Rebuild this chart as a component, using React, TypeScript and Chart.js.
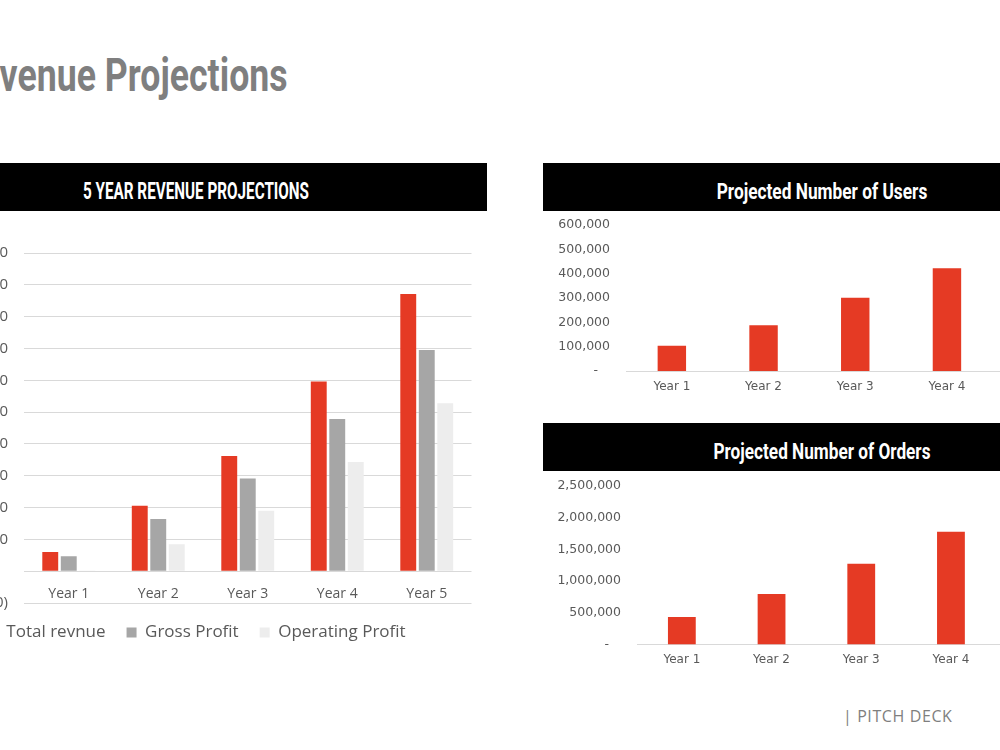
import React, { useEffect, useRef } from "react";
import { Chart, registerables } from "chart.js";

Chart.register(...registerables);

// ---------- data ----------
const revenueYears = ["Year 1", "Year 2", "Year 3", "Year 4", "Year 5"];
const totalRevenue = [600000, 2060000, 3620000, 5960000, 8710000];
const grossProfit = [470000, 1640000, 2910000, 4780000, 6950000];
const operatingProfit = [20000, 850000, 1900000, 3430000, 5280000];
const revenueSeriesNames = ["Total revnue", "Gross Profit", "Operating Profit"];
const revenueTickMin = -1000000;
const revenueTickMax = 10000000;
const revenueTickStep = 1000000;

const userYears = ["Year 1", "Year 2", "Year 3", "Year 4", "Year 5"];
const projectedUsers = [104000, 188000, 301000, 422000, 550000];
const usersTickMax = 600000;
const usersTickStep = 100000;

const orderYears = ["Year 1", "Year 2", "Year 3", "Year 4", "Year 5"];
const projectedOrders = [435000, 797000, 1273000, 1780000, 2300000];
const ordersTickMax = 2500000;
const ordersTickStep = 500000;

const pageTitle = "Revenue Projections";
const pageTitleVisible = "venue Projections";
const revenueHeader = "5 YEAR REVENUE PROJECTIONS";
const usersHeader = "Projected Number of Users";
const ordersHeader = "Projected Number of Orders";
const footerText = "| PITCH DECK";

// ---------- styles ----------
const RED = "#E53A24";
const GRAY = "#A6A6A6";
const LIGHT = "#EDEDED";
const TEXT = "#595959";
const GRID = "#D9D9D9";

const fmt = (v: number) => Math.round(v).toLocaleString("en-US");
const accounting = (v: number) =>
  v === 0 ? "-   " : v < 0 ? `(${fmt(-v)})` : fmt(v);

let measureCtx: CanvasRenderingContext2D | null = null;
function textWidth(text: string, font: string) {
  if (!measureCtx) measureCtx = document.createElement("canvas").getContext("2d");
  measureCtx!.font = font;
  return measureCtx!.measureText(text).width;
}

function useChart(config: any) {
  const ref = useRef<HTMLCanvasElement | null>(null);
  useEffect(() => {
    if (!ref.current) return;
    const chart = new Chart(ref.current, config);
    return () => chart.destroy();
  }, []);
  return ref;
}

function RevenueChart() {
  const ref = useChart({
    type: "bar",
    data: {
      labels: revenueYears,
      datasets: [
        { label: revenueSeriesNames[0], data: totalRevenue, backgroundColor: RED },
        { label: revenueSeriesNames[1], data: grossProfit, backgroundColor: GRAY },
        { label: revenueSeriesNames[2], data: operatingProfit, backgroundColor: LIGHT },
      ],
    },
    options: {
      responsive: false,
      animation: false,
      events: [],
      layout: { padding: { top: 30, right: 18.5, left: 0, bottom: 0 } },
      datasets: { bar: { categoryPercentage: 0.62, barPercentage: 0.86, borderWidth: 0 } },
      plugins: {
        legend: {
          position: "bottom",
          labels: {
            boxWidth: 10,
            boxHeight: 10,
            padding: 21,
            color: TEXT,
            font: { family: "Open Sans", size: 17 },
          },
        },
        tooltip: { enabled: false },
      },
      scales: {
        x: {
          position: { y: 0 },
          grid: { display: false, drawTicks: false },
          border: { display: false },
          ticks: { color: TEXT, font: { family: "Open Sans", size: 14 }, padding: 14 },
        },
        y: {
          min: revenueTickMin,
          max: revenueTickMax,
          grid: { color: GRID, drawTicks: false },
          border: { display: false },
          ticks: {
            stepSize: revenueTickStep,
            padding: 16,
            color: TEXT,
            font: { family: "Open Sans", size: 15 },
            callback: (v: any) => accounting(Number(v)),
          },
          afterFit: (s: any) => {
            s.width = 102;
            s.paddingTop = 0;
            s.paddingBottom = 0;
          },
        },
      },
    },
  });
  return (
    <canvas
      ref={ref}
      width={568}
      height={428}
      style={{ position: "absolute", left: -78, top: 223, width: 568, height: 428 }}
    />
  );
}

function SingleBarChart(props: {
  labels: string[];
  values: number[];
  max: number;
  step: number;
  axisWidth: number;
  padTop: number;
  padRight: number;
  xPad: number;
  left: number;
  top: number;
  width: number;
  height: number;
}) {
  const ref = useChart({
    type: "bar",
    data: {
      labels: props.labels,
      datasets: [{ data: props.values, backgroundColor: RED, borderWidth: 0 }],
    },
    options: {
      responsive: false,
      animation: false,
      events: [],
      layout: { padding: { top: props.padTop, right: props.padRight, left: 0, bottom: 0 } },
      datasets: { bar: { categoryPercentage: 1, barPercentage: 0.31 } },
      plugins: { legend: { display: false }, tooltip: { enabled: false } },
      scales: {
        x: {
          grid: { display: false, drawTicks: false },
          border: { display: true, color: GRID, width: 1 },
          ticks: { color: TEXT, font: { family: "DejaVu Sans", size: 12 }, padding: props.xPad },
          afterFit: (s: any) => {
            s.height = props.xPad + 14.4;
          },
        },
        y: {
          min: 0,
          max: props.max,
          grid: { display: false, drawTicks: false },
          border: { display: false },
          ticks: {
            stepSize: props.step,
            padding: 16,
            color: TEXT,
            font: { family: "DejaVu Sans", size: 12.5 },
            callback: (v: any) => accounting(Number(v)),
          },
          afterFit: (s: any) => {
            s.width = props.axisWidth;
            s.paddingTop = 0;
            s.paddingBottom = 0;
          },
        },
      },
    },
  });
  return (
    <canvas
      ref={ref}
      width={props.width}
      height={props.height}
      style={{
        position: "absolute",
        left: props.left,
        top: props.top,
        width: props.width,
        height: props.height,
      }}
    />
  );
}

function CondensedText(props: {
  text: string;
  fitText?: string;
  targetWidth: number;
  fontSize: number;
  color: string;
  top: number;
  centerX?: number;
  rightX?: number;
}) {
  const font = `700 ${props.fontSize}px Roboto`;
  const natural = textWidth(props.fitText ?? props.text, font);
  const s = natural > 0 ? props.targetWidth / natural : 1;
  const base: React.CSSProperties = {
    position: "absolute",
    top: props.top,
    fontFamily: "Roboto",
    fontWeight: 700,
    fontSize: props.fontSize,
    lineHeight: `${props.fontSize}px`,
    color: props.color,
    whiteSpace: "nowrap",
  };
  if (props.rightX !== undefined) {
    return (
      <div
        style={{
          ...base,
          right: 1000 - props.rightX,
          transform: `scaleX(${s})`,
          transformOrigin: "right center",
        }}
      >
        {props.text}
      </div>
    );
  }
  return (
    <div
      style={{
        ...base,
        left: props.centerX,
        transform: `translateX(-50%) scaleX(${s})`,
        transformOrigin: "center center",
      }}
    >
      {props.text}
    </div>
  );
}

export default function App() {
  return (
    <div
      style={{
        position: "fixed",
        left: 0,
        top: 0,
        width: 1000,
        height: 750,
        overflow: "hidden",
        background: "#ffffff",
      }}
    >
      <CondensedText
        text={pageTitle}
        fitText={pageTitleVisible}
        targetWidth={288}
        fontSize={45.6}
        color="#7F7F7F"
        top={53.3}
        rightX={288}
      />

      {/* header bars */}
      <div style={{ position: "absolute", left: -95, top: 163, width: 582, height: 48, background: "#000" }} />
      <div style={{ position: "absolute", left: 543, top: 163, width: 560, height: 48, background: "#000" }} />
      <div style={{ position: "absolute", left: 543, top: 423, width: 560, height: 48, background: "#000" }} />

      <CondensedText text={revenueHeader} targetWidth={226} fontSize={23.5} color="#fff" top={179.6} centerX={195.5} />
      <CondensedText text={usersHeader} targetWidth={210.6} fontSize={22} color="#fff" top={180.5} centerX={822} />
      <CondensedText text={ordersHeader} targetWidth={217} fontSize={22} color="#fff" top={440.8} centerX={822} />

      <RevenueChart />

      <SingleBarChart
        labels={userYears}
        values={projectedUsers}
        max={usersTickMax}
        step={usersTickStep}
        axisWidth={83}
        padTop={13}
        padRight={8.5}
        xPad={8.5}
        left={543}
        top={212}
        width={550}
        height={182}
      />
      <SingleBarChart
        labels={orderYears}
        values={projectedOrders}
        max={ordersTickMax}
        step={ordersTickStep}
        axisWidth={94}
        padTop={12}
        padRight={7.5}
        xPad={8}
        left={543}
        top={474}
        width={550}
        height={193}
      />

      <div
        style={{
          position: "absolute",
          left: 843,
          top: 708,
          fontFamily: "Open Sans",
          fontSize: 16,
          lineHeight: "16px",
          letterSpacing: "0.6px",
          color: "#7F7F7F",
          whiteSpace: "nowrap",
        }}
      >
        {footerText}
      </div>
    </div>
  );
}
